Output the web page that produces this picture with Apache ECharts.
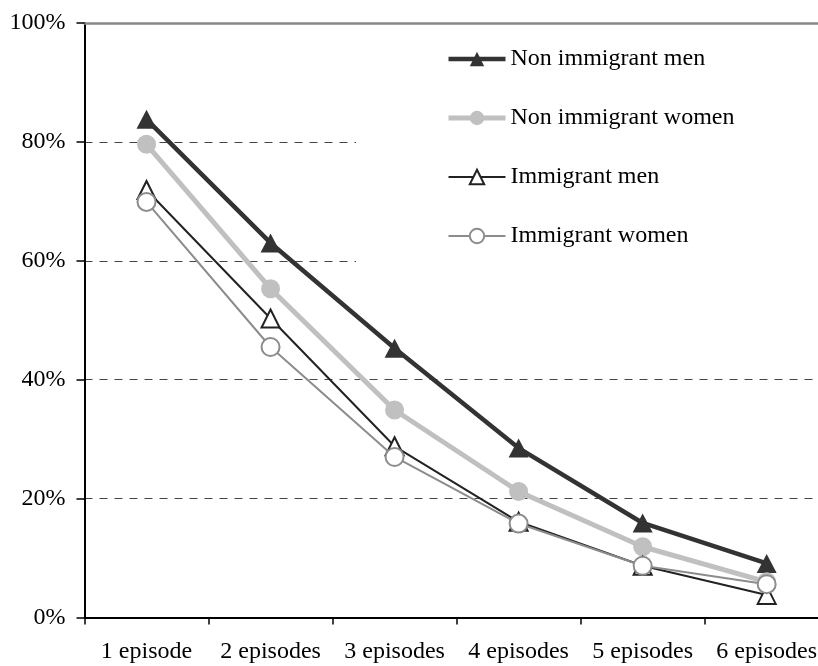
<!DOCTYPE html>
<html>
<head>
<meta charset="utf-8">
<script src="https://cdn.jsdelivr.net/npm/echarts@6/dist/echarts.min.js"></script>
<style>
  html, body { margin: 0; padding: 0; background: #fff; }
  #chart { width: 818px; height: 666px; }
</style>
</head>
<body>
<div id="chart"></div>
<script>
// Categories and shares (in percent) for each group
var categories = ['1 episode', '2 episodes', '3 episodes', '4 episodes', '5 episodes', '6 episodes'];
var nonImmigrantMen = [83.8, 63.0, 45.3, 28.5, 15.9, 9.1];
var nonImmigrantWomen = [79.6, 55.3, 34.9, 21.2, 11.9, 6.0];
var immigrantMen = [71.9, 50.3, 28.8, 16.1, 8.7, 3.8];
var immigrantWomen = [69.9, 45.5, 27.0, 15.8, 8.7, 5.6];
var yTicks = { min: 0, max: 100, interval: 20 };

var FONT = '"Liberation Serif", "Times New Roman", serif';

var chart = echarts.init(document.getElementById('chart'), null, { renderer: 'canvas' });

chart.setOption({
  backgroundColor: '#ffffff',
  animation: false,
  textStyle: { fontFamily: FONT, color: '#000' },
  grid: {
    left: 84.5,
    right: -10.7,
    top: 23,
    bottom: 48.5,
    containLabel: false,
    outerBoundsMode: 'none'
  },
  // white legend panel that hides the dashed gridlines behind the legend
  graphic: [{
    type: 'rect',
    z: 1,
    silent: true,
    shape: { x: 356, y: 26, width: 480, height: 262 },
    style: { fill: '#ffffff' }
  }],
  legend: {
    orient: 'vertical',
    left: 446,
    top: 47,
    padding: 0,
    itemWidth: 57,
    itemHeight: 18,
    itemGap: 35,
    textStyle: { fontFamily: FONT, fontSize: 24, color: '#000', lineHeight: 24 },
    data: [
      { name: 'Non immigrant men', lineStyle: { width: 4.5 } },
      { name: 'Non immigrant women', lineStyle: { width: 5 } },
      { name: 'Immigrant men', lineStyle: { width: 2 } },
      { name: 'Immigrant women', lineStyle: { width: 2 } }
    ]
  },
  xAxis: [{
    type: 'category',
    data: categories,
    boundaryGap: true,
    axisLine: { lineStyle: { color: '#000', width: 2 } },
    axisTick: { show: true, length: 7, lineStyle: { color: '#000', width: 1.5 } },
    axisLabel: { fontFamily: FONT, fontSize: 24, color: '#000', margin: 22, interval: 0 },
    splitLine: { show: false }
  }, {
    type: 'category',
    position: 'top',
    data: categories,
    axisLine: { show: true, lineStyle: { color: '#888888', width: 2.5 } },
    axisTick: { show: false },
    axisLabel: { show: false },
    splitLine: { show: false }
  }],
  yAxis: {
    type: 'value',
    min: yTicks.min,
    max: yTicks.max,
    interval: yTicks.interval,
    axisLine: { show: true, lineStyle: { color: '#000', width: 2 } },
    axisTick: { show: true, length: 8, lineStyle: { color: '#000', width: 1.5 } },
    axisLabel: { fontFamily: FONT, fontSize: 24, color: '#000', margin: 19, formatter: '{value}%' },
    splitLine: { show: true, lineStyle: { color: '#444', width: 1, type: [8, 7] } }
  },
  series: [{
    name: 'Non immigrant men',
    type: 'line',
    data: nonImmigrantMen,
    symbol: 'triangle',
    symbolSize: [20, 19],
    lineStyle: { color: '#333333', width: 4.5 },
    itemStyle: { color: '#333333', borderColor: '#333333', borderWidth: 0 },
    z: 2
  }, {
    name: 'Non immigrant women',
    type: 'line',
    data: nonImmigrantWomen,
    symbol: 'circle',
    symbolSize: 19,
    lineStyle: { color: '#c0c0c0', width: 5 },
    itemStyle: { color: '#c0c0c0', borderColor: '#c0c0c0', borderWidth: 0 },
    z: 3
  }, {
    name: 'Immigrant men',
    type: 'line',
    data: immigrantMen,
    symbol: 'triangle',
    symbolSize: [18, 18],
    lineStyle: { color: '#222222', width: 2 },
    itemStyle: { color: '#ffffff', borderColor: '#222222', borderWidth: 2 },
    z: 4
  }, {
    name: 'Immigrant women',
    type: 'line',
    data: immigrantWomen,
    symbol: 'circle',
    symbolSize: 18,
    lineStyle: { color: '#8c8c8c', width: 2 },
    itemStyle: { color: '#ffffff', borderColor: '#8c8c8c', borderWidth: 2 },
    z: 5
  }]
});
</script>
</body>
</html>
